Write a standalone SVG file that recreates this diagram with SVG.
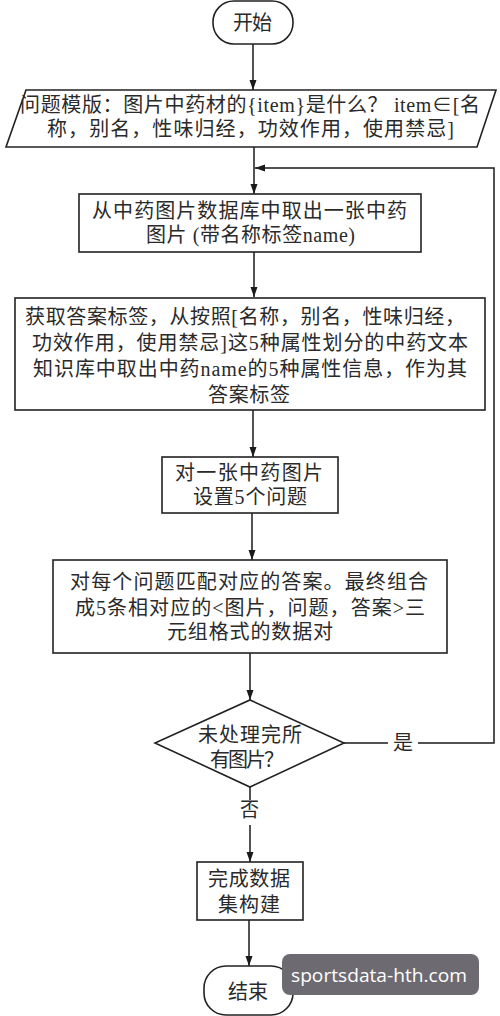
<svg xmlns="http://www.w3.org/2000/svg" width="500" height="1016" viewBox="0 0 500 1016">
<defs>
<marker id="ah" viewBox="0 0 10 10" refX="10" refY="5" markerWidth="10" markerHeight="10" markerUnits="userSpaceOnUse" orient="auto">
<path d="M0,1.5 L10,5 L0,8.5 z" fill="#1a1a1a"/>
</marker>
<style>
.s{fill:#fff;stroke:#222;stroke-width:1.6}
.t{font-family:"Liberation Serif","Noto Sans CJK SC",serif;font-size:20px;fill:#2a2a2a}
.c{fill:none;stroke:#1a1a1a;stroke-width:1.5}
.a{marker-end:url(#ah)}
</style>
</defs>
<rect width="500" height="1016" fill="#fff"/>
<g id="connectors">
<line class="c a" x1="253" y1="44" x2="253" y2="90"/>
<line class="c a" x1="254" y1="147" x2="254" y2="194"/>
<line class="c a" x1="254" y1="252" x2="254" y2="297"/>
<line class="c a" x1="253" y1="410" x2="253" y2="457"/>
<line class="c a" x1="252" y1="513" x2="252" y2="560"/>
<line class="c a" x1="250" y1="653" x2="250" y2="700"/>
<line class="c" x1="250" y1="787" x2="250" y2="800"/>
<line class="c a" x1="250" y1="825" x2="250" y2="862"/>
<line class="c a" x1="249" y1="920" x2="249" y2="966"/>
<line class="c" x1="344" y1="743" x2="388" y2="743"/>
<polyline class="c a" points="418,743 494,743 494,168 255,168"/>
<text class="t" x="393" y="750" textLength="20" lengthAdjust="spacingAndGlyphs">是</text>
<text class="t" x="240" y="817" textLength="19" lengthAdjust="spacingAndGlyphs">否</text>
</g>
<g id="start">
<rect class="s" x="213" y="1" width="80" height="43" rx="21"/>
<text class="t" x="233" y="30" textLength="39" lengthAdjust="spacing">开始</text>
</g>
<g id="template">
<polygon class="s" points="26,90 496,90 477,147 6,147"/>
<text class="t" x="20" y="112" textLength="460" lengthAdjust="spacing">问题模版：图片中药材的{item}是什么？ item∈[名</text>
<text class="t" x="47" y="136" textLength="407" lengthAdjust="spacing">称，别名，性味归经，功效作用，使用禁忌]</text>
</g>
<g id="fetch">
<rect class="s" x="79" y="194" width="342" height="58"/>
<text class="t" x="92" y="218" textLength="315" lengthAdjust="spacing">从中药图片数据库中取出一张中药</text>
<text class="t" x="146" y="242" textLength="209" lengthAdjust="spacing">图片 (带名称标签name)</text>
</g>
<g id="label">
<rect class="s" x="15" y="298" width="470" height="112"/>
<text class="t" x="25" y="324" textLength="440" lengthAdjust="spacing">获取答案标签，从按照[名称，别名，性味归经，</text>
<text class="t" x="32" y="350" textLength="436" lengthAdjust="spacing">功效作用，使用禁忌]这5种属性划分的中药文本</text>
<text class="t" x="33" y="376" textLength="434" lengthAdjust="spacing">知识库中取出中药name的5种属性信息，作为其</text>
<text class="t" x="208" y="402" textLength="82" lengthAdjust="spacing">答案标签</text>
</g>
<g id="questions">
<rect class="s" x="162" y="457" width="176" height="56"/>
<text class="t" x="175" y="480" textLength="148" lengthAdjust="spacing">对一张中药图片</text>
<text class="t" x="193" y="504" textLength="114" lengthAdjust="spacing">设置5个问题</text>
</g>
<g id="match">
<rect class="s" x="53" y="560" width="394" height="93"/>
<text class="t" x="70" y="589" textLength="358" lengthAdjust="spacing">对每个问题匹配对应的答案。最终组合</text>
<text class="t" x="75" y="615" textLength="350" lengthAdjust="spacing">成5条相对应的&lt;图片，问题，答案&gt;三</text>
<text class="t" x="167" y="639" textLength="166" lengthAdjust="spacing">元组格式的数据对</text>
</g>
<g id="decision">
<polygon class="s" points="250,700 344,743 250,787 155,743"/>
<text class="t" x="198" y="742" textLength="104" lengthAdjust="spacing">未处理完所</text>
<text class="t" x="210" y="767" textLength="74" lengthAdjust="spacing">有图片？</text>
</g>
<g id="finish">
<rect class="s" x="197" y="862" width="106" height="58"/>
<text class="t" x="208" y="886" textLength="82" lengthAdjust="spacing">完成数据</text>
<text class="t" x="218" y="912" textLength="62" lengthAdjust="spacing">集构建</text>
</g>
<g id="end">
<rect class="s" x="204" y="966" width="89" height="49" rx="22"/>
<text class="t" x="228" y="999" textLength="40" lengthAdjust="spacing">结束</text>
</g>
<g id="watermark">
<rect x="282" y="954" width="197" height="41" rx="8" fill="#6e6a72"/>
<text x="291" y="982" font-family="Open Sans, sans-serif" font-size="19" fill="#fff" textLength="176" lengthAdjust="spacingAndGlyphs">sportsdata-hth.com</text>
</g>
</svg>
